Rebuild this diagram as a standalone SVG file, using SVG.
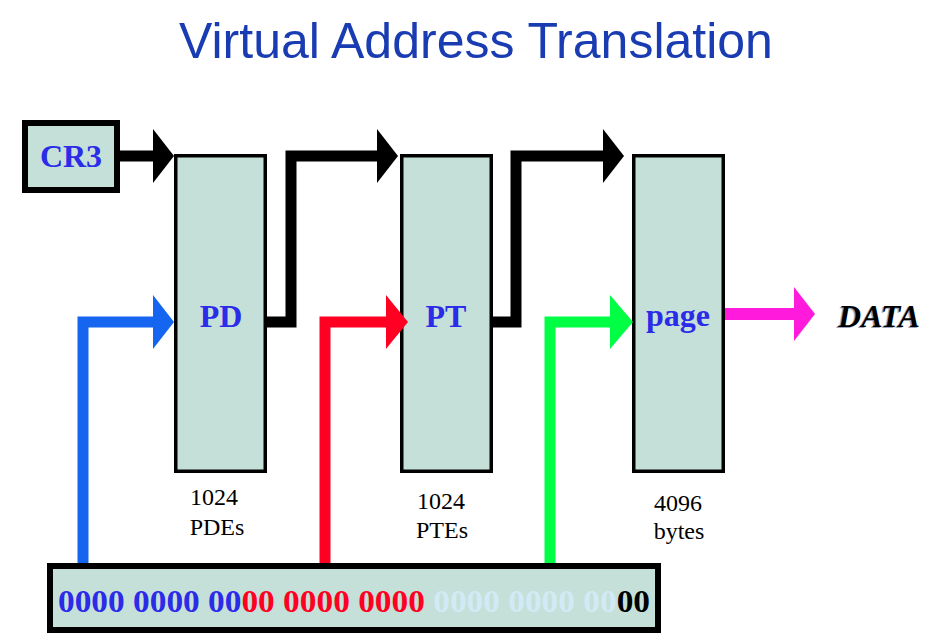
<svg xmlns="http://www.w3.org/2000/svg" width="934" height="643" viewBox="0 0 934 643">
<style>
.box{fill:#c5e0d8;stroke:#000;stroke-width:3.5}
.lbl{font-family:"Liberation Serif",serif;font-weight:bold;font-size:32px;fill:#2b2be8;text-anchor:middle}
.cap{font-family:"Liberation Serif",serif;font-size:24px;fill:#000;text-anchor:middle}
.blk{fill:none;stroke:#000;stroke-width:11;stroke-linejoin:miter}
</style>
<rect width="934" height="643" fill="#fff"/>
<text x="476" y="58" font-family="Liberation Sans, Arial, sans-serif" font-size="50" fill="#1a3cb2" text-anchor="middle">Virtual Address Translation</text>
<g id="connectors">
<line x1="120" y1="156" x2="154" y2="156" class="blk"/>
<polygon points="153,129 174,156 153,183" fill="#000"/>
<polyline points="267,322 291,322 291,156 378,156" class="blk"/>
<polygon points="377,129 398,156 377,183" fill="#000"/>
<polyline points="493,322 516,322 516,156 604,156" class="blk"/>
<polygon points="603,129 624,156 603,183" fill="#000"/>
</g>
<g id="cr3">
<rect x="25" y="123" width="92" height="67" fill="#c5e0d8" stroke="#000" stroke-width="6"/>
<text x="71" y="167" class="lbl">CR3</text>
</g>
<g id="pd">
<rect x="175.75" y="155.75" width="89.5" height="315.5" class="box"/>
<text x="221" y="327" class="lbl">PD</text>
<text x="214" y="505" class="cap">1024</text>
<text x="217" y="535" class="cap">PDEs</text>
</g>
<g id="pt">
<rect x="401.75" y="155.75" width="89.5" height="315.5" class="box"/>
<text x="446" y="327" class="lbl">PT</text>
<text x="441" y="509" class="cap">1024</text>
<text x="442" y="538" class="cap">PTEs</text>
</g>
<g id="page">
<rect x="633.75" y="155.75" width="89.5" height="315.5" class="box"/>
<text x="678" y="326" class="lbl">page</text>
<text x="678" y="511" class="cap">4096</text>
<text x="679" y="539" class="cap">bytes</text>
</g>
<g id="data">
<text x="879" y="327" font-family="Liberation Serif, serif" font-weight="bold" font-style="italic" font-size="32" fill="#9aa6c0" text-anchor="middle" dx="-1.5" dy="0.5">DATA</text>
<text x="879" y="327" font-family="Liberation Serif, serif" font-weight="bold" font-style="italic" font-size="32" fill="#000" text-anchor="middle">DATA</text>
</g>
<g id="address">
<rect x="50" y="566" width="608" height="64" fill="#c5e0d8" stroke="#000" stroke-width="6"/>
<text x="58" y="612" font-family="Liberation Serif, serif" font-weight="bold" font-size="32" textLength="592" lengthAdjust="spacingAndGlyphs"><tspan fill="#2b2be8">0000 0000 00</tspan><tspan fill="#ff0022">00 0000 0000 </tspan><tspan fill="#d2eaf5">0000 0000 00</tspan><tspan fill="#000">00</tspan></text>
</g>
<g id="index-arrows">
<polyline points="83,563 83,322 154,322" fill="none" stroke="#1565f0" stroke-width="11"/>
<polygon points="153,295 174,322 153,349" fill="#1565f0"/>
<polyline points="325,563 325,322 387,322" fill="none" stroke="#ff0022" stroke-width="11"/>
<polygon points="386,295 408,322 386,349" fill="#ff0022"/>
<polyline points="550,563 550,322 611,322" fill="none" stroke="#00ff44" stroke-width="11"/>
<polygon points="610,295 633,322 610,349" fill="#00ff44"/>
<line x1="725" y1="314" x2="795" y2="314" stroke="#ff1adc" stroke-width="12"/>
<polygon points="794,287 815,314 794,341" fill="#ff1adc"/>
</g>
</svg>
